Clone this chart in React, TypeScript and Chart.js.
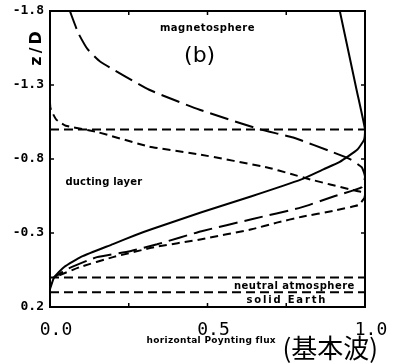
import React, { useEffect, useRef } from "react";
import { Chart, registerables } from "chart.js";

Chart.register(...registerables);

// ---- data ----
const yTicks = [-1.8, -1.3, -0.8, -0.3, 0.2];
const xTicks = [0.0, 0.5, 1.0];
const xMinorTicks = [0.25, 0.5, 0.75];
const boundaryLevels = [-1.0, 0.0, 0.1];

// solid curve
const solidX = [0.92, 0.945, 0.973, 1.0, 0.997, 0.976, 0.92, 0.868, 0.798, 0.64, 0.481, 0.322, 0.27, 0.2, 0.1, 0.045, 0.013, 0.0];
const solidY = [-1.8, -1.55, -1.27, -1.0, -0.93, -0.864, -0.78, -0.73, -0.662, -0.548, -0.44, -0.325, -0.285, -0.225, -0.14, -0.07, 0.0, 0.08];

// long-dashed curve
const longDashX = [0.063, 0.09, 0.12, 0.16, 0.315, 0.475, 0.667, 0.772, 0.9, 0.954, 0.99, 1.0, 0.99, 0.9, 0.798, 0.64, 0.481, 0.34, 0.254, 0.149, 0.054, 0.013];
const longDashY = [-1.8, -1.65, -1.54, -1.457, -1.268, -1.133, -1.0, -0.945, -0.844, -0.797, -0.743, -0.68, -0.61, -0.547, -0.473, -0.393, -0.312, -0.224, -0.177, -0.137, -0.056, 0.0];

// short-dashed curve
const shortDashX = [0.0, 0.0, 0.003, 0.02, 0.05, 0.154, 0.314, 0.477, 0.69, 0.763, 0.826, 0.953, 0.99, 1.0, 0.98, 0.9, 0.8, 0.72, 0.64, 0.481, 0.33, 0.2, 0.095, 0.013];
const shortDashY = [-1.8, -1.18, -1.133, -1.066, -1.025, -0.98, -0.884, -0.83, -0.743, -0.7, -0.662, -0.594, -0.575, -0.545, -0.49, -0.45, -0.41, -0.37, -0.325, -0.258, -0.204, -0.137, -0.07, 0.0];

// text annotations
const yTitle = "z/D";
const xTitle = "horizontal Poynting flux";
const xTitleExtra = "(基本波)";
const regionNotes = [
  { text: "magnetosphere", x: 0.5, y: -1.68, size: 10, weight: "bold", spacing: 0.5 },
  { text: "(b)", x: 0.475, y: -1.494, size: 22, weight: "normal", spacing: 0 },
  { text: "ducting layer", x: 0.171, y: -0.642, size: 10, weight: "bold", spacing: 0.2 },
  { text: "neutral atmosphere", x: 0.776, y: 0.059, size: 10, weight: "bold", spacing: 0.5 },
  { text: "solid Earth", x: 0.752, y: 0.156, size: 10, weight: "bold", spacing: 1.8 },
];

const toPoints = (xs: number[], ys: number[]) => xs.map((x, i) => ({ x, y: ys[i] }));

const decorPlugin = {
  id: "decor",
  afterDatasetsDraw(chart: any) {
    const { ctx, chartArea: a, scales } = chart;
    const sx = scales.x;
    const sy = scales.y;
    ctx.save();
    ctx.strokeStyle = "#000";
    ctx.fillStyle = "#000";
    ctx.setLineDash([]);
    ctx.lineWidth = 2;
    ctx.strokeRect(a.left, a.top, a.right - a.left, a.bottom - a.top);
    ctx.lineWidth = 1.5;
    ctx.beginPath();
    for (const v of xMinorTicks) {
      const px = sx.getPixelForValue(v);
      ctx.moveTo(px, a.top);
      ctx.lineTo(px, a.top + 4);
      ctx.moveTo(px, a.bottom);
      ctx.lineTo(px, a.bottom - 4);
    }
    for (const v of yTicks) {
      const py = sy.getPixelForValue(v);
      ctx.moveTo(a.left, py);
      ctx.lineTo(a.left + 4, py);
      ctx.moveTo(a.right, py);
      ctx.lineTo(a.right - 4, py);
    }
    ctx.stroke();

    ctx.textAlign = "center";
    ctx.textBaseline = "middle";
    for (const n of regionNotes) {
      ctx.font = `${n.weight} ${n.size}px 'DejaVu Sans', sans-serif`;
      (ctx as any).letterSpacing = `${n.spacing}px`;
      ctx.fillText(n.text, sx.getPixelForValue(n.x), sy.getPixelForValue(n.y));
    }

    // x axis title
    ctx.font = "bold 9px 'DejaVu Sans', sans-serif";
    (ctx as any).letterSpacing = "0.3px";
    ctx.fillText(xTitle, sx.getPixelForValue(0.512), a.bottom + 34);
    ctx.font = "26px 'Noto Sans CJK JP', sans-serif";
    (ctx as any).letterSpacing = "0px";
    ctx.fillText(xTitleExtra, sx.getPixelForValue(0.89), a.bottom + 41);

    // y axis title (rotated)
    ctx.save();
    ctx.translate(a.left - 13, sy.getPixelForValue(-1.557));
    ctx.rotate(-Math.PI / 2);
    ctx.font = "bold 16px 'DejaVu Sans', sans-serif";
    (ctx as any).letterSpacing = "3px";
    ctx.fillText(yTitle, 0, 0);
    ctx.restore();

    (ctx as any).letterSpacing = "0px";
    ctx.restore();
  },
};

export default function App() {
  const ref = useRef<HTMLCanvasElement | null>(null);

  useEffect(() => {
    document.body.style.margin = "0";
    const canvas = ref.current;
    if (!canvas) return;

    const lineDatasets = boundaryLevels.map((lv) => ({
      data: [
        { x: 0, y: lv },
        { x: 1, y: lv },
      ],
      borderColor: "#000",
      borderWidth: 2,
      borderDash: [9, 5],
      pointRadius: 0,
      tension: 0,
      fill: false,
    }));

    const chart = new Chart(canvas, {
      type: "line",
      data: {
        datasets: [
          ...lineDatasets,
          {
            data: toPoints(solidX, solidY),
            borderColor: "#000",
            borderWidth: 2,
            pointRadius: 0,
            tension: 0.15,
            fill: false,
          },
          {
            data: toPoints(longDashX, longDashY),
            borderColor: "#000",
            borderWidth: 2,
            borderDash: [19, 7],
            pointRadius: 0,
            tension: 0.15,
            fill: false,
          },
          {
            data: toPoints(shortDashX, shortDashY),
            borderColor: "#000",
            borderWidth: 2,
            borderDash: [8, 5],
            pointRadius: 0,
            tension: 0.12,
            fill: false,
          },
        ] as any,
      },
      options: {
        animation: false,
        responsive: false,
        layout: { padding: { left: 0, right: 30, top: 11, bottom: 0 } },
        plugins: { legend: { display: false }, tooltip: { enabled: false } },
        elements: { point: { radius: 0 } },
        scales: {
          x: {
            type: "linear",
            min: 0,
            max: 1,
            grid: { display: false, drawTicks: false },
            border: { display: false },
            afterBuildTicks: (s: any) => {
              s.ticks = xTicks.map((v) => ({ value: v }));
            },
            afterFit: (s: any) => {
              s.height = 57;
              s.paddingLeft = 0;
              s.paddingRight = 0;
            },
            ticks: {
              autoSkip: false,
              maxRotation: 0,
              color: "#000",
              padding: 13,
              labelOffset: 6,
              font: { family: "'DejaVu Sans Mono', monospace", size: 18 },
              callback: (v: any) => Number(v).toFixed(1),
            },
          },
          y: {
            type: "linear",
            min: -1.8,
            max: 0.2,
            reverse: true,
            grid: { display: false, drawTicks: false },
            border: { display: false },
            afterBuildTicks: (s: any) => {
              s.ticks = yTicks.map((v) => ({ value: v }));
            },
            afterFit: (s: any) => {
              s.width = 50;
              s.paddingTop = 0;
              s.paddingBottom = 0;
            },
            ticks: {
              autoSkip: false,
              color: "#000",
              padding: 6,
              font: { family: "'DejaVu Sans Mono', monospace", size: 13, weight: "bold" },
              callback: (v: any) => Number(v).toFixed(1),
            },
          },
        },
      } as any,
      plugins: [decorPlugin],
    });

    return () => chart.destroy();
  }, []);

  return (
    <div style={{ width: 395, height: 364, background: "#fff" }}>
      <canvas ref={ref} width={395} height={364} style={{ display: "block" }} />
    </div>
  );
}
